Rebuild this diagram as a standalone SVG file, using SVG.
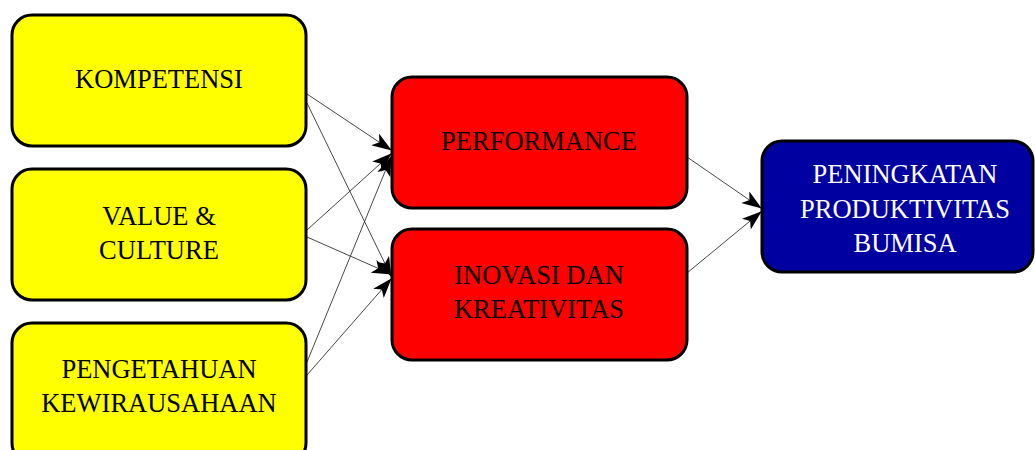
<svg xmlns="http://www.w3.org/2000/svg" width="1035" height="450" viewBox="0 0 1035 450">
<style>
.box{stroke:#000;stroke-width:3}
.y{fill:#ffff00}
.r{fill:#ff0000}
.b{fill:#0000a0}
.t{font-family:"Liberation Serif","Times New Roman",serif;font-size:26.5px;text-anchor:middle;fill:#000}
.w{fill:#fff}
.c{stroke:#333;stroke-width:0.9;fill:none;marker-end:url(#ah)}
</style>
<defs>
<marker id="ah" viewBox="0 0 20 14" refX="19" refY="7" markerWidth="20" markerHeight="14" markerUnits="userSpaceOnUse" orient="auto">
<path d="M0,0 L20,7 L0,14 L5,7 Z" fill="#000"/>
</marker>
</defs>
<rect width="1035" height="450" fill="#fff"/>
<g id="connectors">
<line class="c" x1="307" y1="94" x2="391" y2="150"/>
<line class="c" x1="307" y1="103" x2="391" y2="276"/>
<line class="c" x1="307" y1="230" x2="391" y2="154"/>
<line class="c" x1="307" y1="237" x2="391" y2="274"/>
<line class="c" x1="307" y1="362" x2="391" y2="157"/>
<line class="c" x1="307" y1="375" x2="391" y2="279"/>
<line class="c" x1="687" y1="157" x2="761" y2="208"/>
<line class="c" x1="687" y1="273" x2="761" y2="212"/>
</g>
<g id="kompetensi">
<rect class="box y" x="12" y="15" width="294" height="131" rx="20"/>
<text class="t" x="159" y="88">KOMPETENSI</text>
</g>
<g id="value-culture">
<rect class="box y" x="12" y="169" width="294" height="131" rx="20"/>
<text class="t" x="159" y="225">VALUE &amp;</text>
<text class="t" x="159" y="259">CULTURE</text>
</g>
<g id="pengetahuan">
<rect class="box y" x="12" y="323" width="294" height="140" rx="20"/>
<text class="t" x="159" y="378">PENGETAHUAN</text>
<text class="t" x="159" y="412">KEWIRAUSAHAAN</text>
</g>
<g id="performance">
<rect class="box r" x="392" y="77" width="295" height="131" rx="20"/>
<text class="t" x="539" y="150">PERFORMANCE</text>
</g>
<g id="inovasi">
<rect class="box r" x="392" y="229" width="295" height="131" rx="20"/>
<text class="t" x="539" y="284">INOVASI DAN</text>
<text class="t" x="539" y="318">KREATIVITAS</text>
</g>
<g id="peningkatan">
<rect class="box b" x="762" y="141" width="271" height="131" rx="20"/>
<text class="t w" x="905" y="183">PENINGKATAN</text>
<text class="t w" x="905" y="218">PRODUKTIVITAS</text>
<text class="t w" x="905" y="252">BUMISA</text>
</g>
</svg>
